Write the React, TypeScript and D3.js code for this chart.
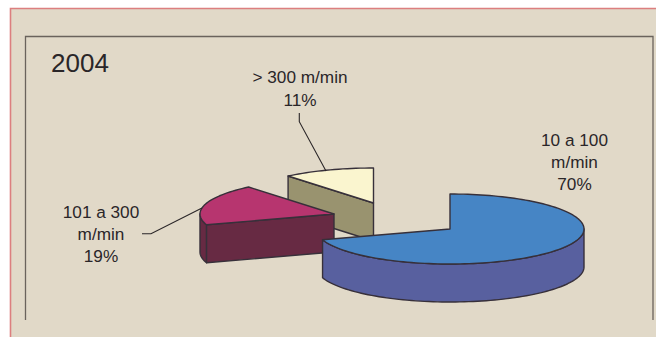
import React from "react";
import * as d3 from "d3";

const categories = ["10 a 100 m/min", "101 a 300 m/min", "> 300 m/min"];
const shares = [70, 19, 11];
const labelLines = [["10 a 100", "m/min", "70%"], ["101 a 300", "m/min", "19%"], ["> 300 m/min", "11%"]];
const topColors = ["#4685c5", "#b7356f", "#faf5cf"];
const sideColors = ["#58609f", "#672a43", "#99936f"];
const apexX = [450, 334, 373.5];
const apexY = [229, 214, 203];
const labelX = [574.5, 101, 300];
const labelY = [146, 218, 83];
const labelGap = [22, 22, 23];

const RX = 134, RY = 35, DEPTH = 38;
const EDGE = "#37303a";
const pieGen = d3.pie<number>().sort(null).startAngle(0).endAngle(2 * Math.PI);
const lineGen = d3.line<[number, number]>().x(d => d[0]).y(d => d[1]);

const pt = (i: number, a: number, dy = 0): [number, number] => [
  apexX[i] + RX * Math.sin(a),
  apexY[i] - RY * Math.cos(a) + dy,
];
const arcPts = (i: number, a0: number, a1: number, dy = 0): [number, number][] => {
  const n = Math.max(2, Math.ceil(Math.abs(a1 - a0) * 30));
  return d3.range(n + 1).map(k => pt(i, a0 + ((a1 - a0) * k) / n, dy));
};
const closed = (pts: [number, number][]) => (lineGen(pts) || "") + "Z";

export default function App() {
  const arcs = pieGen(shares);
  const [blue, red, yellow] = arcs;
  const apex = (i: number, dy = 0): [number, number] => [apexX[i], apexY[i] + dy];

  const stroke = { stroke: EDGE, strokeWidth: 1.4, strokeLinejoin: "round" as const };

  return (
    <svg
      width={656}
      height={337}
      viewBox="0 0 656 337"
      style={{ position: "absolute", left: 0, top: 0, display: "block", fontFamily: "'Liberation Sans', Arial, sans-serif" }}
    >
      <rect x={0} y={0} width={656} height={337} fill="#ffffff" />
      <rect x={10} y={8} width={646} height={329} fill="#e1d9c8" />
      <path d="M10.5,337V8.5H656" fill="none" stroke="#dc7f7f" strokeWidth={1.6} />
      <path d="M25.5,320V36.5H653V320" fill="none" stroke="#6a635c" strokeWidth={1.3} />
      <text x={51} y={71.5} fontSize={26} fill="#2a2628">2004</text>

      {/* yellow slice */}
      <path d={closed([apex(2), pt(2, yellow.startAngle), pt(2, yellow.startAngle, DEPTH), apex(2, DEPTH)])} fill={sideColors[2]} {...stroke} />
      <path d={closed([apex(2), ...arcPts(2, yellow.startAngle, yellow.endAngle)])} fill={topColors[2]} {...stroke} />

      {/* red slice */}
      <path d={closed([...arcPts(1, red.startAngle, 1.5 * Math.PI), ...arcPts(1, 1.5 * Math.PI, red.startAngle, DEPTH)])} fill={sideColors[1]} {...stroke} />
      <path d={closed([apex(1), pt(1, red.startAngle), pt(1, red.startAngle, DEPTH), apex(1, DEPTH)])} fill={sideColors[1]} {...stroke} />
      <path d={closed([apex(1), ...arcPts(1, red.startAngle, red.endAngle)])} fill={topColors[1]} {...stroke} />

      {/* blue slice */}
      <path d={closed([...arcPts(0, Math.PI / 2, blue.endAngle), ...arcPts(0, blue.endAngle, Math.PI / 2, DEPTH)])} fill={sideColors[0]} {...stroke} />
      <path d={closed([apex(0), ...arcPts(0, blue.startAngle, blue.endAngle)])} fill={topColors[0]} {...stroke} />

      {/* leaders */}
      <path d="M299.3,113V121.7L326,171" fill="none" stroke="#2a2628" strokeWidth={1.1} />
      <path d="M142,233.7H151L202,208" fill="none" stroke="#2a2628" strokeWidth={1.1} />

      {categories.map((c, i) => (
        <text key={c} textAnchor="middle" fontSize={17.2} fill="#2a2628">
          {labelLines[i].map((l, j) => (
            <tspan key={j} x={labelX[i]} y={labelY[i] + j * labelGap[i]}>{l}</tspan>
          ))}
        </text>
      ))}
    </svg>
  );
}
